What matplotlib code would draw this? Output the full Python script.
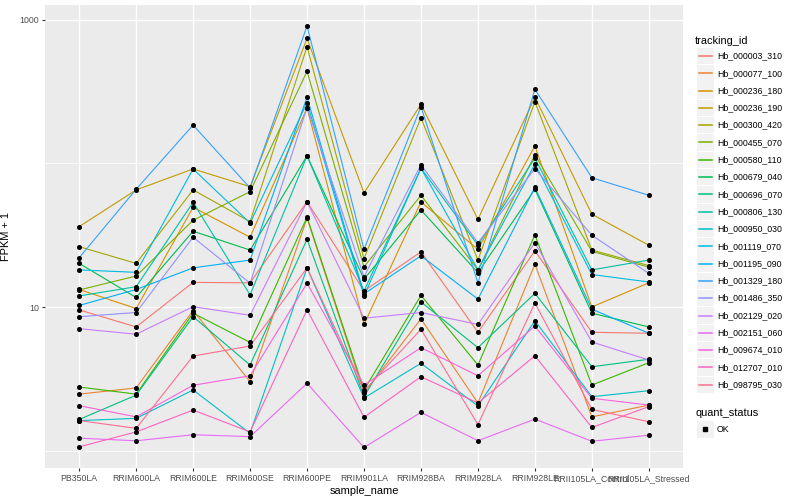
import matplotlib
matplotlib.use("Agg")
from matplotlib import pyplot as plt
from matplotlib.lines import Line2D
from matplotlib.patches import Rectangle
from matplotlib.ticker import NullFormatter

plt.rcParams['font.family'] = ['Liberation Sans', 'DejaVu Sans']

samples = ["PB350LA", "RRIM600LA", "RRIM600LE", "RRIM600SE", "RRIM600PE",
           "RRIM901LA", "RRIM928BA", "RRIM928LA", "RRIM928LE",
           "RRII105LA_Control", "RRII105LA_Stressed"]

tracking_ids = ["Hb_000003_310", "Hb_000077_100", "Hb_000236_180", "Hb_000236_190",
                "Hb_000300_420", "Hb_000455_070", "Hb_000580_110", "Hb_000679_040",
                "Hb_000696_070", "Hb_000806_130", "Hb_000950_030", "Hb_001119_070",
                "Hb_001195_090", "Hb_001329_180", "Hb_001486_350", "Hb_002129_020",
                "Hb_002151_060", "Hb_009674_010", "Hb_012707_010", "Hb_098795_030"]

# FPKM + 1 per gene, in sample order
hb_000003_310 = [9.6, 7.3, 14.9, 14.8, 54.2, 13.0, 24.3, 6.7, 24.7, 6.7, 6.6]
hb_000077_100 = [2.49, 2.75, 9.5, 3.04, 41.6, 2.54, 8.3, 2.16, 19.9, 1.73, 2.09]
hb_000236_180 = [13.3, 9.8, 49.6, 30.7, 243, 7.6, 54.0, 25.3, 132, 10.05, 14.8]
hb_000236_190 = [36.4, 65.5, 91.6, 69.0, 740, 62.4, 258, 40.9, 289, 44.4, 27.0]
hb_000300_420 = [26.4, 20.2, 65.5, 39.4, 649, 21.8, 208, 21.3, 269, 25.0, 19.5]
hb_000455_070 = [13.2, 16.5, 40.3, 63.7, 437, 19.1, 60.1, 18.2, 115, 24.5, 19.0]
hb_000580_110 = [2.79, 2.49, 9.1, 5.7, 42.3, 2.66, 12.1, 3.97, 31.9, 2.88, 4.12]
hb_000679_040 = [20.2, 11.7, 33.8, 25.0, 113, 15.7, 47.5, 17.4, 66.2, 9.1, 7.3]
hb_000696_070 = [1.66, 2.45, 8.6, 3.97, 29.7, 2.39, 10.9, 5.24, 12.5, 3.86, 4.35]
hb_000806_130 = [12.0, 13.9, 53.7, 12.2, 113, 13.0, 92.7, 27.1, 109, 18.2, 21.3]
hb_000950_030 = [1.63, 1.69, 2.66, 1.33, 18.8, 2.34, 4.08, 2.06, 8.07, 2.39, 2.63]
hb_001119_070 = [18.2, 17.5, 91.6, 38.5, 265, 12.0, 92.7, 18.2, 99.3, 16.9, 15.0]
hb_001195_090 = [10.3, 13.3, 18.8, 21.3, 289, 12.4, 22.8, 11.4, 68.3, 9.7, 6.6]
hb_001329_180 = [22.1, 66.2, 185, 67.6, 904, 25.3, 248, 14.8, 328, 79.6, 60.1]
hb_001486_350 = [8.6, 9.2, 30.7, 14.7, 245, 16.3, 98.1, 28.1, 92.1, 31.7, 17.2]
hb_002129_020 = [7.1, 6.5, 10.1, 8.8, 54.2, 8.4, 9.2, 7.6, 28.1, 5.74, 4.30]
hb_002151_060 = [1.23, 1.18, 1.30, 1.26, 2.96, 1.06, 1.86, 1.18, 1.67, 1.17, 1.29]
hb_009674_010 = [2.07, 1.73, 2.87, 3.34, 14.7, 2.88, 5.24, 3.34, 7.41, 2.33, 2.09]
hb_012707_010 = [1.07, 1.36, 1.93, 1.36, 9.6, 1.72, 3.29, 2.16, 4.60, 1.46, 2.04]
hb_098795_030 = [1.63, 1.44, 4.58, 5.38, 18.8, 2.62, 7.03, 1.53, 10.7, 1.95, 1.60]

series = [hb_000003_310, hb_000077_100, hb_000236_180, hb_000236_190, hb_000300_420,
          hb_000455_070, hb_000580_110, hb_000679_040, hb_000696_070, hb_000806_130,
          hb_000950_030, hb_001119_070, hb_001195_090, hb_001329_180, hb_001486_350,
          hb_002129_020, hb_002151_060, hb_009674_010, hb_012707_010, hb_098795_030]

# ggplot default hue palette for 20 levels
colors = ["#F8766D", "#EA8331", "#D89000", "#C09B00", "#A3A500", "#7CAE00", "#39B600",
          "#00BB4E", "#00BF7D", "#00C1A3", "#00BFC4", "#00BAE0", "#00B0F6", "#35A2FF",
          "#9590FF", "#C77CFF", "#E76BF3", "#FA62DB", "#FF62BC", "#FF6C91"]

W, H = 800, 500
fig = plt.figure(figsize=(W / 100, H / 100), dpi=100)
ax = fig.add_axes([45 / W, 1 - 468 / H, (683 - 45) / W, (468 - 5) / H])
ax.set_facecolor("#EBEBEB")
for s in ax.spines.values():
    s.set_visible(False)

xs = list(range(len(samples)))
for vals, c in zip(series, colors):
    ax.plot(xs, vals, color=c, lw=0.8, zorder=3)
for vals in series:
    ax.plot(xs, vals, ls="none", marker="o", ms=2.6, color="black", zorder=4)

ax.set_yscale("log")
ax.set_ylim(0.763, 1265)
ax.set_xlim(-0.6, len(samples) - 0.4)
ax.set_yticks([10, 1000])
ax.set_yticklabels(["10", "1000"])
ax.set_yticks([1, 100], minor=True)
ax.yaxis.set_minor_formatter(NullFormatter())
ax.set_xticks(xs)
ax.set_xticklabels(samples)

ax.grid(True, which="major", color="white", lw=1.0, zorder=0)
ax.grid(True, which="minor", axis="y", color="white", lw=0.5, zorder=0)
ax.set_axisbelow(True)
ax.tick_params(which="major", length=2.2, width=0.8, color="#333333",
               labelsize=6.3, labelcolor="#4D4D4D", pad=2)
ax.tick_params(which="minor", length=0)

ax.set_xlabel("sample_name", fontsize=7.9, labelpad=2)
ax.set_ylabel("FPKM + 1", fontsize=7.9, labelpad=6)


def fx(px):
    return px / W


def fy(py):
    return 1 - py / H


# legend: tracking_id
fig.text(fx(695), fy(40.7), "tracking_id", fontsize=7.9, va="center", ha="left")
row0, pitch = 56.0, 17.3
for i, (name, c) in enumerate(zip(tracking_ids, colors)):
    yc = row0 + i * pitch
    fig.add_artist(Rectangle((fx(697), fy(yc + 8.2)), 16.5 / W, 16.4 / H,
                             facecolor="#F2F2F2", edgecolor="none"))
    fig.add_artist(Line2D([fx(699), fx(712)], [fy(yc), fy(yc)], color=c, lw=1.1))
    fig.text(fx(717), fy(yc), name, fontsize=6.3, va="center", ha="left")

# legend: quant_status
fig.text(fx(695), fy(412.7), "quant_status", fontsize=7.9, va="center", ha="left")
yc = 429.3
fig.add_artist(Rectangle((fx(697), fy(yc + 8.2)), 16.5 / W, 16.4 / H,
                         facecolor="#F2F2F2", edgecolor="none"))
fig.add_artist(Line2D([fx(705.2)], [fy(yc)], ls="none", marker="s", ms=2.4, color="black"))
fig.text(fx(717), fy(yc), "OK", fontsize=6.3, va="center", ha="left")

fig.savefig("out.png", dpi=100)
